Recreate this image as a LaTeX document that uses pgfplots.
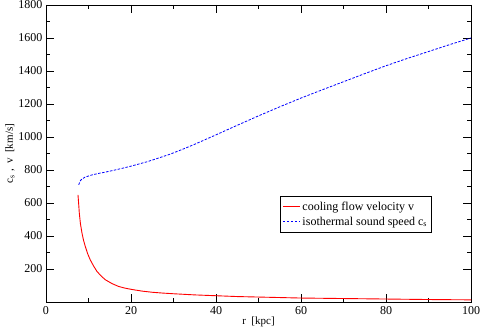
\documentclass[border=0pt]{standalone}
\usepackage{pgfplots}
\pgfplotsset{compat=1.18}
\usepackage{fontspec}
\setmainfont{Liberation Serif}
\usetikzlibrary{calc}

\begin{document}
\begin{tikzpicture}
\begin{axis}[
  name=ax,
  scale only axis,
  width=425pt,
  height=297pt,
  xmin=0, xmax=100,
  ymin=0, ymax=1800,
  xtick={0,20,...,100},
  ytick={200,400,...,1800},
  minor x tick num=1,
  minor y tick num=1,
  tick align=inside,
  major tick length=8pt,
  minor tick length=4pt,
  tick style={black, line width=0.8pt},
  axis line style={black, line width=0.9pt},
  /pgf/number format/assume math mode=true,
  /pgf/number format/set thousands separator={},
  tick label style={font=\fontsize{12}{14}\selectfont},
  xticklabel style={yshift=-1pt},
  xlabel={r\ \ [kpc]},
  ylabel={c\textsubscript{s}\ ,\ \ v\ \ [km/s]},
  label style={font=\fontsize{11}{13}\selectfont},
  xlabel style={at={(axis description cs:0.5,-0.067)}, anchor=center},
  ylabel style={at={(axis description cs:-0.085,0.5)}, anchor=center},
  legend style={at={(axis description cs:0.551,0.357)}, anchor=north west,
    font=\fontsize{12}{14}\selectfont, inner xsep=2pt, inner ysep=3.5pt,
    row sep=1pt, line width=0.7pt},
  legend cell align=left,
  clip=false,
]
\addplot[red, line width=0.9pt] coordinates {
  (7.53,649) (7.7,590) (7.84,538) (8.1,475) (8.47,417) (8.85,372)
  (9.25,336) (9.8,293) (10.4,256) (11.2,218) (12.0,185) (13,157)
  (13.95,135) (15.5,112) (17.1,94) (18.6,84) (20.2,76) (22.6,66)
  (25,59) (27.5,54) (30,50) (35,43) (40,38) (45,33) (50,30) (55,27)
  (60,24) (70,21) (80,18) (90,15) (100,13)
};
\addlegendentry{cooling flow velocity v}
\addplot[blue, line width=0.8pt, dash pattern=on 2.5pt off 1.5pt] coordinates {
  (7.7,710) (7.9,725) (8.1,736) (8.47,745) (9.2,757) (10.8,770) (12.3,779)
  (13.95,787) (15.9,798) (17.9,810) (19.8,822) (21.8,836) (23.8,850)
  (25.7,866) (27.5,881) (29.3,897) (32,924) (35,956) (40,1013) (45,1071)
  (50,1128) (55,1183) (60,1236) (65,1286) (70,1335) (75,1384) (80,1432)
  (85,1476) (90,1518) (95,1560) (100,1600)
};
\addlegendentry{isothermal sound speed c\textsubscript{s}}
\end{axis}
\pgfresetboundingbox
\path[use as bounding box] ($(ax.south west)+(-46pt,-29pt)$) rectangle ($(ax.north east)+(10pt,5pt)$);
\end{tikzpicture}
\end{document}
